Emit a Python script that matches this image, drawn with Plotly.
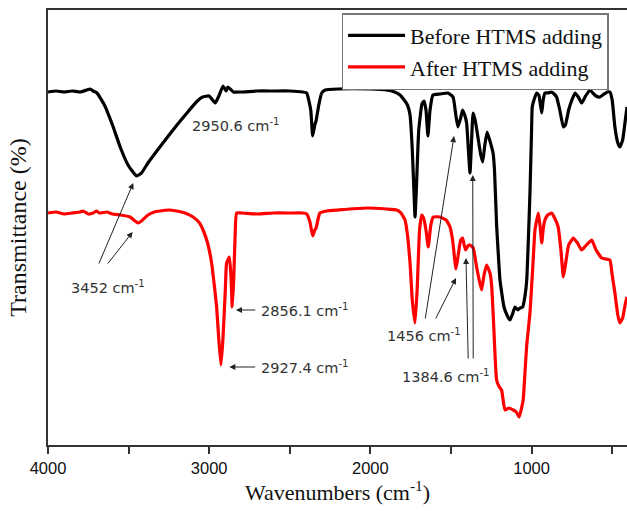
import plotly.graph_objects as go

# ---- data (wavenumber cm^-1, transmittance in arbitrary units) ----
before_wn = [4000, 3950, 3900, 3850, 3800, 3760, 3739, 3720, 3696, 3650, 3600, 3550, 3500, 3450, 3420,
             3380, 3287, 3200, 3138, 3080, 3040, 3000, 2963, 2940, 2914, 2895, 2885, 2870, 2850, 2800,
             2700, 2600, 2500, 2420, 2395, 2370, 2358, 2345, 2337, 2320, 2302, 2280, 2200, 2000, 1900,
             1850, 1816, 1790, 1770, 1754, 1740, 1730, 1723, 1715, 1700, 1680, 1667, 1655, 1643, 1630,
             1612, 1568, 1518, 1487, 1470, 1457, 1440, 1428, 1415, 1403, 1392, 1382, 1372, 1363, 1350,
             1333, 1315, 1303, 1290, 1276, 1260, 1239, 1230, 1217, 1208, 1196, 1171, 1150, 1134, 1118,
             1103, 1085, 1072, 1055, 1040, 1030, 1020, 1010, 1000, 996, 985, 969, 955, 945, 937,
             928, 917, 900, 876, 860, 845, 825, 803, 790, 770, 750, 730, 710, 689, 665,
             638, 620, 600, 576, 550, 530, 514, 500, 483, 465, 452, 435, 420, 408]
before_t = [353, 354, 353, 354, 353, 355, 356, 354, 352, 340, 320, 297, 279, 269, 272,
            282, 302, 320, 332, 343, 348, 349, 342, 349, 359, 354, 358, 356, 353, 353,
            354, 354, 354, 353, 352, 335, 309, 320, 324, 340, 352, 355, 356, 356, 355,
            353, 350, 345, 340, 330, 295, 255, 228, 255, 315, 341, 344, 335, 309, 335,
            350, 351, 352, 348, 330, 318, 327, 335, 330, 322, 295, 272, 305, 332, 325,
            308, 290, 283, 300, 313, 305, 292, 275, 220, 195, 165, 138, 129, 125, 131,
            138, 135, 137, 138, 150, 165, 205, 252, 315, 338, 345, 352, 350, 340, 332,
            345, 352, 352, 353, 351, 348, 335, 318, 320, 335, 345, 352, 348, 342, 349,
            355, 352, 349, 348, 351, 353, 353, 345, 318, 302, 298, 305, 323, 338]

after_wn = [4000, 3950, 3900, 3850, 3800, 3783, 3750, 3720, 3700, 3680, 3636, 3600, 3550, 3491, 3460,
            3442, 3420, 3380, 3340, 3305, 3250, 3202, 3150, 3100, 3060, 3038, 3010, 2985, 2965, 2954,
            2940, 2927, 2915, 2900, 2892, 2875, 2865, 2857, 2848, 2838, 2830, 2800, 2700, 2600, 2500,
            2420, 2395, 2375, 2358, 2345, 2337, 2320, 2313, 2271, 2200, 2023, 1900, 1837, 1810, 1785,
            1770, 1754, 1740, 1723, 1710, 1695, 1682, 1670, 1655, 1641, 1625, 1610, 1568, 1530, 1506,
            1490, 1469, 1455, 1440, 1428, 1418, 1409, 1395, 1382, 1362, 1341, 1325, 1310, 1295, 1279,
            1258, 1248, 1235, 1217, 1200, 1186, 1165, 1140, 1114, 1095, 1077, 1065, 1052, 1040, 1030,
            1010, 990, 979, 958, 948, 937, 927, 917, 900, 876, 860, 835, 818, 803, 790,
            770, 741, 715, 689, 660, 627, 600, 565, 540, 514, 500, 483, 465, 452, 435,
            420, 408]
after_t = [232, 233, 231, 232, 233, 234, 231, 232, 234, 232, 233, 231, 230, 228, 224,
           222, 224, 230, 233, 234, 235, 234, 232, 228, 222, 215, 202, 182, 155, 138,
           105, 80, 105, 155, 182, 188, 170, 138, 165, 215, 232, 232, 231, 232, 232,
           232, 231, 223, 209, 215, 217, 229, 232, 234, 235, 237, 236, 235, 232, 225,
           210, 182, 145, 122, 155, 215, 230, 227, 215, 198, 220, 228, 228, 225, 218,
           205, 176, 190, 205, 207, 200, 195, 199, 200, 197, 178, 165, 155, 170, 180,
           172, 160, 120, 65, 58, 55, 35, 37, 35, 33, 28, 35, 45, 75, 100,
           132, 185, 215, 232, 220, 202, 217, 225, 230, 232, 228, 218, 195, 168, 180,
           200, 207, 202, 195, 200, 205, 195, 187, 186, 185, 170, 152, 130, 122, 127,
           140, 148]

series_names = ["Before HTMS adding", "After HTMS adding"]
series_colors = ["#000000", "#ff0000"]

tick_vals = [4000, 3500, 3000, 2500, 2000, 1500, 1000, 500]
tick_text = ["4000", "", "3000", "", "2000", "", "1000", ""]

# peak labels: (text, x, y, xanchor)
peak_labels = [
    ("2950.6 cm<sup>-1</sup>", 2831, 320, "center"),
    ("3452 cm<sup>-1</sup>", 3628, 158, "center"),
    ("2856.1 cm<sup>-1</sup>", 2690, 135, "left"),
    ("2927.4 cm<sup>-1</sup>", 2690, 78, "left"),
    ("1456 cm<sup>-1</sup>", 1668, 110, "center"),
    ("1384.6 cm<sup>-1</sup>", 1528, 69, "center"),
]
# arrows: (head_x, head_y, tail_x, tail_y)
peak_arrows = [
    (3471, 262, 3688, 180),
    (3475, 213, 3636, 180),
    (2834, 135, 2705, 135),
    (2875, 78, 2705, 78),
    (1481, 309, 1661, 125),
    (1469, 167, 1599, 125),
    (1407, 187, 1393, 85),
    (1365, 270, 1362, 85),
]

fig = go.Figure()
for wn, t, name, col in [(before_wn, before_t, series_names[0], series_colors[0]),
                         (after_wn, after_t, series_names[1], series_colors[1])]:
    fig.add_trace(go.Scatter(x=wn, y=t, mode="lines", name=name,
                             line=dict(color=col, width=3.2, shape="spline", smoothing=0.4)))

annotations = []
for txt, x, y, xa in peak_labels:
    annotations.append(dict(x=x, y=y, xref="x", yref="y", text=txt, showarrow=False,
                            xanchor=xa, yanchor="middle",
                            font=dict(family="DejaVu Sans", size=14.5, color="#333333")))
for hx, hy, tx, ty in peak_arrows:
    annotations.append(dict(x=hx, y=hy, xref="x", yref="y", ax=tx, ay=ty, axref="x", ayref="y",
                            text="", showarrow=True, arrowhead=2, arrowsize=1.2, arrowwidth=1,
                            arrowcolor="#222222", standoff=0, startstandoff=0))

fig.update_layout(
    width=627, height=511,
    margin=dict(l=48, r=0, t=10, b=66),
    paper_bgcolor="white", plot_bgcolor="white",
    showlegend=True,
    legend=dict(x=0.507, y=0.993, xanchor="left", yanchor="top",
                bgcolor="white", bordercolor="#777777", borderwidth=1.5,
                font=dict(family="Liberation Serif", size=22, color="#111111"),
                itemwidth=57, tracegroupgap=0),
    annotations=annotations,
    xaxis=dict(range=[4000, 408], tickvals=tick_vals, ticktext=tick_text,
               ticks="outside", ticklen=7, tickwidth=1.5, tickcolor="#333333",
               showline=True, linecolor="#333333", linewidth=2, mirror=True,
               showgrid=False, zeroline=False,
               tickfont=dict(family="Liberation Sans", size=16.5, color="#111111"),
               title=dict(text="Wavenumbers (cm<sup>-1</sup>)", standoff=6,
                          font=dict(family="Liberation Serif", size=22, color="#111111"))),
    yaxis=dict(range=[0, 435], showticklabels=False, ticks="",
               showline=True, linecolor="#333333", linewidth=2, mirror=False,
               showgrid=False, zeroline=False, automargin=False,
               title=dict(text="Transmittance (%)", standoff=13,
                          font=dict(family="Liberation Serif", size=24, color="#111111"))),
)

fig.write_html("out.html")
